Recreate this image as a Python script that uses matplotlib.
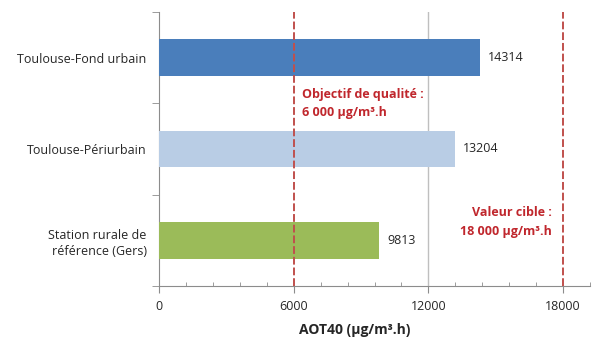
import matplotlib.pyplot as plt
from matplotlib.ticker import MultipleLocator

STATIONS = ["Toulouse-Fond urbain", "Toulouse-Périurbain", "Station rurale de\nréférence (Gers)"]
AOT40 = [14314, 13204, 9813]
BAR_COLORS = ["#4a7ebb", "#b9cde5", "#9bbb59"]
XTICKS = [0, 6000, 12000, 18000]
OBJECTIF = 6000
CIBLE = 18000

plt.rcParams["font.family"] = ["Open Sans", "DejaVu Sans"]

AXIS_GRAY = "#8c8c8c"
TEXT = "#262626"
RED_LINE = "#c0504d"
RED_TEXT = "#c0272d"

fig = plt.figure(figsize=(6.01, 3.41), dpi=100)
ax = fig.add_axes([159 / 601, 1 - 286 / 341, (590 - 159) / 601, (286 - 12) / 341])

ypos = list(range(len(STATIONS)))
ax.barh(ypos, AOT40, height=0.4, color=BAR_COLORS, zorder=3)
for y, v in zip(ypos, AOT40):
    ax.text(v + 350, y, f"{v}", va="center", ha="left", fontsize=9, color=TEXT, zorder=4)

ax.set_xlim(0, 19200)
ax.set_ylim(2.5, -0.5)

# gridline at 12000 (others hidden by the threshold lines)
ax.axvline(12000, color="#bfbfbf", lw=1, zorder=1)
for val in (OBJECTIF, CIBLE):
    ax.axvline(val, color=RED_LINE, lw=1.4, ls=(0, (4, 1.5)), zorder=5)

ax.text(OBJECTIF + 380, 0.5, "Objectif de qualité :\n6 000 µg/m³.h", color=RED_TEXT,
        fontsize=9, fontweight="bold", ha="left", va="center", linespacing=1.55)
ax.text(CIBLE - 480, 1.8, "Valeur cible :\n18 000 µg/m³.h", color=RED_TEXT,
        fontsize=9, fontweight="bold", ha="right", va="center", linespacing=1.55)

ax.set_xticks(XTICKS)
ax.set_xticklabels([str(t) for t in XTICKS], fontsize=9, color=TEXT)
ax.xaxis.set_minor_locator(MultipleLocator(1200))
ax.tick_params(axis="x", which="major", direction="out", length=5, color=AXIS_GRAY, pad=5)
ax.tick_params(axis="x", which="minor", direction="in", length=3, color=AXIS_GRAY)

ax.set_yticks(ypos)
ax.set_yticklabels(STATIONS, fontsize=9, color=TEXT, linespacing=1.3)
ax.set_yticks([-0.5, 0.5, 1.5, 2.5], minor=True)
ax.tick_params(axis="y", which="major", length=0, pad=9)
ax.tick_params(axis="y", which="minor", direction="out", length=5, color=AXIS_GRAY)

for side in ("top", "right"):
    ax.spines[side].set_visible(False)
for side in ("left", "bottom"):
    ax.spines[side].set_color(AXIS_GRAY)

ax.set_xlabel("AOT40 (µg/m³.h)", fontsize=10, fontweight="bold", color=TEXT)
ax.xaxis.set_label_coords(0.455, -0.135)

fig.savefig("out.png", dpi=100)
